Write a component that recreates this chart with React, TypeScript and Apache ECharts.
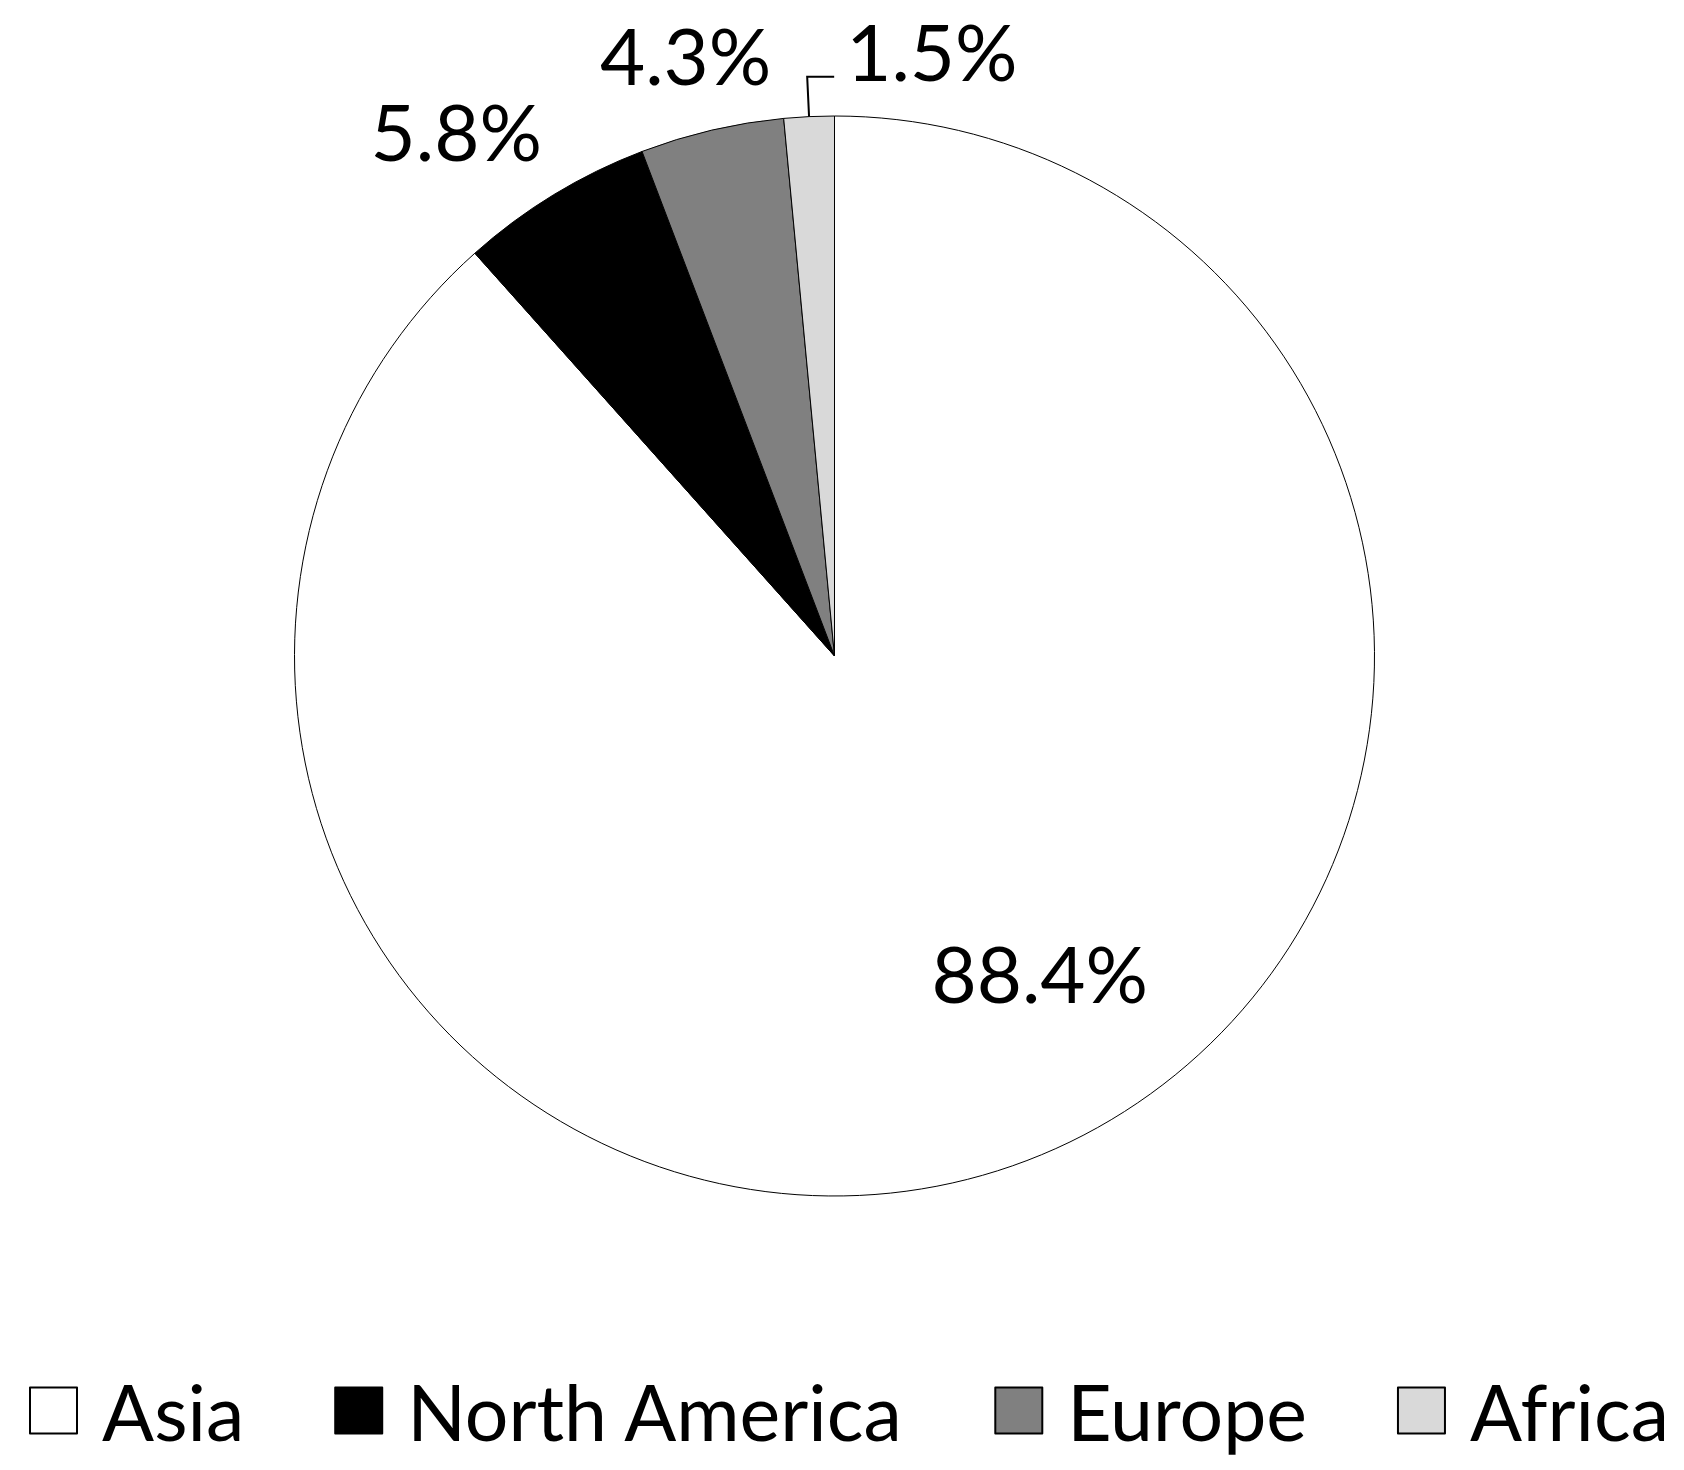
import React, { useEffect, useRef } from 'react';
import * as echarts from 'echarts';

const categories = ['Asia', 'North America', 'Europe', 'Africa'];
const shares = [88.4, 5.8, 4.3, 1.5];
const sliceColors = ['#ffffff', '#000000', '#808080', '#d9d9d9'];
const labelNudges = [[108, 62], [31, -51], [98, -61], [0, -26]];

export default function App() {
  const ref = useRef<HTMLDivElement>(null);
  useEffect(() => {
    document.body.style.margin = '0';
    const chart = echarts.init(ref.current!, null, { renderer: 'svg' });
    const font = 'Lato, "Open Sans", sans-serif';
    chart.setOption({
      animation: false,
      backgroundColor: '#ffffff',
      legend: {
        left: 24,
        top: 1367,
        width: 1670,
        icon: 'rect',
        itemWidth: 47,
        itemHeight: 46,
        itemGap: 90,
        textStyle: { fontFamily: font, fontSize: 77, lineHeight: 50, color: '#000', padding: [0, 0, 0, 20] },
        itemStyle: { borderColor: '#000', borderWidth: 2 },
        data: categories,
      },
      series: [
        {
          type: 'pie',
          center: [834.5, 656],
          radius: 540,
          startAngle: 90,
          clockwise: true,
          avoidLabelOverlap: false,
          itemStyle: { borderColor: '#000', borderWidth: 1 },
          label: {
            show: true,
            position: 'outside',
            formatter: (p: any) => p.value.toFixed(1) + '%',
            fontFamily: font,
            fontSize: 78,
            color: '#000',
          },
          labelLine: { show: false },
          labelLayout: (params: any) => {
            const i = params.dataIndex;
            if (i === 3 && params.labelLinePoints) {
              const pts = params.labelLinePoints;
              const end: [number, number] = [pts[1][0] + 27, pts[1][1]];
              return {
                labelLinePoints: [pts[0], pts[1], end],
                x: end[0] + 12,
                y: end[1] + labelNudges[i][1],
                align: 'left',
                verticalAlign: 'middle',
              };
            }
            return { dx: labelNudges[i][0], dy: labelNudges[i][1] };
          },
          data: categories.map((name, i) => ({
            name,
            value: shares[i],
            itemStyle: { color: sliceColors[i] },
            ...(i === 0 ? { label: { position: 'inside' } } : {}),
            ...(i === 3
              ? { labelLine: { show: true, length: 40, length2: 24, lineStyle: { color: '#000', width: 2 } } }
              : {}),
          })),
        },
      ],
    });
    return () => chart.dispose();
  }, []);
  return <div ref={ref} style={{ width: 1684, height: 1470 }} />;
}
